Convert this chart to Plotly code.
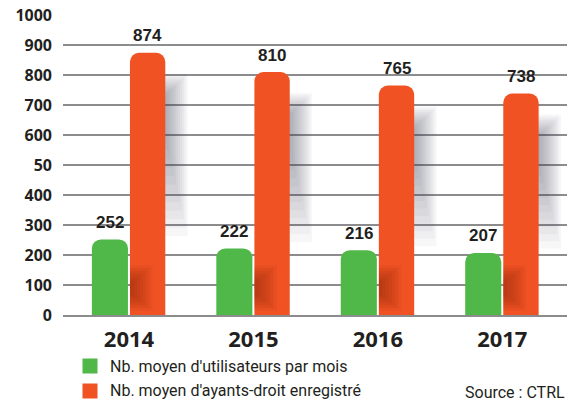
import plotly.graph_objects as go

years = ["2014", "2015", "2016", "2017"]
utilisateurs = [252, 222, 216, 207]
ayants_droit = [874, 810, 765, 738]
y_tickvals = [0, 100, 200, 300, 400, 500, 600, 700, 800, 900, 1000]
y_ticktext = ["0", "100", "200", "300", "400", "50", "600", "700", "800", "900", "1000"]
series_names = ["Nb. moyen d'utilisateurs par mois", "Nb. moyen d'ayants-droit enregistré"]
source_text = "Source : CTRL"

GREEN = "#50b848"
ORANGE = "#f05224"
TXT = "#231f20"
GRID = "#8c8c8e"

# bar geometry (category units)
G_OFF, G_W = -0.298, 0.29
O_OFF, O_W = 0.008, 0.284

fig = go.Figure()

# soft grey drop shadow to the right of the orange bars (drawn first, behind)
N_SH = 12
for k in range(N_SH):
    t = k / (N_SH - 1)
    w = 0.19 - 0.17 * t
    drop = 70 + 70 * t
    bf = 0.30 + 0.36 * t
    tops = [v - drop for v in ayants_droit]
    bases = [v * bf for v in ayants_droit]
    fig.add_trace(go.Bar(
        x=years, y=[tp - b for tp, b in zip(tops, bases)], base=bases,
        offset=O_OFF + O_W - 0.01, width=w,
        marker=dict(color="rgba(70,75,90,0.045)", line=dict(width=0)),
        hoverinfo="skip", showlegend=False,
    ))

series = [(series_names[0], utilisateurs, GREEN, G_OFF, G_W),
          (series_names[1], ayants_droit, ORANGE, O_OFF, O_W)]
for name, vals, col, off, w in series:
    fig.add_trace(go.Bar(
        x=years, y=vals, name=name, showlegend=False,
        offset=off, width=w,
        marker=dict(color=col, line=dict(width=0), cornerradius=9),
        hoverinfo="skip",
    ))

# dark shading at the bottom-left of the orange bars
N_IN = 7
for k in range(N_IN):
    t = k / (N_IN - 1)
    w = 0.18 - 0.15 * t
    b0 = 15 + 50 * t
    t0 = 165 - 50 * t
    fig.add_trace(go.Bar(
        x=years, y=[t0 - b0] * len(years), base=[b0] * len(years),
        offset=O_OFF, width=w,
        marker=dict(color="rgba(110,25,5,0.07)", line=dict(width=0)),
        hoverinfo="skip", showlegend=False,
    ))

annotations = []
# value labels above bars
for (name, vals, col, off, w) in series:
    for i, v in enumerate(vals):
        annotations.append(dict(
            x=i + off + w / 2, y=v, text=str(v), xref="x", yref="y",
            yshift=17, yanchor="middle", xanchor="center",
            showarrow=False,
            font=dict(family="Liberation Sans", size=17, color=TXT, weight="bold"),
        ))
# legend (swatch + label) below the plot
legend_rows_y = [-0.170, -0.252]
for (name, vals, col, off, w), ly in zip(series, legend_rows_y):
    annotations.append(dict(
        text=" ", xref="paper", yref="paper", x=0.0377, y=ly,
        xanchor="left", yanchor="middle", showarrow=False,
        width=14, height=14, bgcolor=col, borderpad=0,
        font=dict(size=10),
    ))
    annotations.append(dict(
        text=name, xref="paper", yref="paper", x=0.0893, y=ly,
        xanchor="left", yanchor="middle", showarrow=False,
        font=dict(family="Roboto", size=16, color=TXT),
    ))
annotations.append(dict(
    text=source_text, xref="paper", yref="paper", x=1.0, y=-0.257,
    xanchor="right", yanchor="middle", showarrow=False,
    font=dict(family="Roboto", size=16, color=TXT),
))

fig.update_layout(
    width=570, height=401,
    margin=dict(l=63, r=3, t=15, b=86),
    paper_bgcolor="white", plot_bgcolor="white",
    barmode="overlay",
    showlegend=False,
    xaxis=dict(
        type="category", range=[-0.53, 3.52], showgrid=False, zeroline=False,
        showline=True, linecolor=GRID, linewidth=2,
        tickfont=dict(family="Open Sans", size=22, color=TXT, weight="bold"),
        ticks="", ticklabelstandoff=4, fixedrange=True,
    ),
    yaxis=dict(
        range=[0, 1000], tickvals=y_tickvals, ticktext=y_ticktext,
        showgrid=True, gridcolor=GRID, gridwidth=2, zeroline=False,
        tickfont=dict(family="Open Sans", size=16, color=TXT, weight="bold"),
        ticks="", ticklabelstandoff=10, fixedrange=True,
    ),
    annotations=annotations,
)

fig.write_html("out.html", config={"displayModeBar": False},
               post_script="document.body.style.margin='0';document.body.style.overflow='hidden';")
